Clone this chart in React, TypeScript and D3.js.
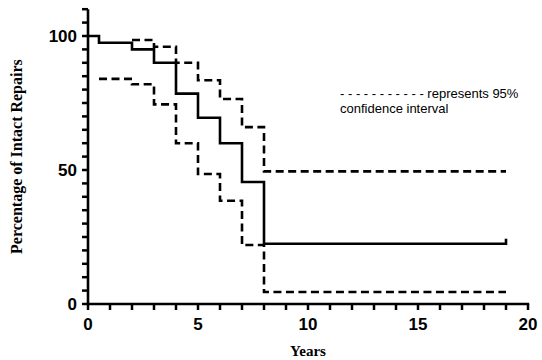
import React, { useEffect, useRef } from 'react';
import * as d3 from 'd3';

// Kaplan-Meier estimate and its 95% confidence band
const survTimes = [0, 0.5, 2, 3, 4, 5, 6, 7, 8, 19];
const survValues = [100, 97.5, 95, 90, 78.5, 69.5, 60, 45.5, 22.5, 22.5];
const upperTimes = [2, 3, 4, 5, 6, 7, 8, 19];
const upperValues = [98.5, 96, 90, 83.5, 76.5, 66, 49.5, 49.5];
const lowerTimes = [0.5, 2, 3, 4, 5, 6, 7, 8, 19];
const lowerValues = [84, 82, 74.5, 60, 48.5, 38.5, 22, 4.5, 4.5];
const censorTimes = [19];
const censorValues = [22.5];

const xTicks = d3.range(0, 21, 1);
const yTicks = d3.range(0, 111, 5);
const xTickLabels = [0, 5, 10, 15, 20];
const yTickLabels = [0, 50, 100];

const App = () => {
    const ref = useRef(null);

    useEffect(() => {
        const width = 542, height = 360;
        const svg = d3.select(ref.current);
        svg.selectAll("*").remove();
        svg.attr("width", width).attr("height", height);

        const x = d3.scaleLinear().domain([0, 20]).range([88, 528]);
        const y = d3.scaleLinear().domain([0, 110]).range([304, 9.2]);

        const sans = "'Liberation Sans', Arial, Helvetica, sans-serif";
        const serif = "'Liberation Serif', 'Times New Roman', serif";
        const tickLen = 6;

        // x axis
        svg.append("line")
            .attr("x1", x(0)).attr("x2", x(20) + 1.2)
            .attr("y1", y(0)).attr("y2", y(0))
            .attr("stroke", "#000").attr("stroke-width", 2.6);
        svg.selectAll(".xtick")
            .data(xTicks)
            .enter().append("line")
            .attr("class", "xtick")
            .attr("x1", d => x(d)).attr("x2", d => x(d))
            .attr("y1", y(0)).attr("y2", y(0) + tickLen)
            .attr("stroke", "#000").attr("stroke-width", 2.5);
        svg.selectAll(".xlabel")
            .data(xTickLabels)
            .enter().append("text")
            .attr("class", "xlabel")
            .attr("x", d => x(d))
            .attr("y", 330)
            .style("text-anchor", "middle")
            .style("font-family", sans)
            .style("font-weight", "bold")
            .style("font-size", "17px")
            .text(d => d);

        // y axis
        svg.append("line")
            .attr("x1", x(0)).attr("x2", x(0))
            .attr("y1", y(0) + 1.3).attr("y2", y(110))
            .attr("stroke", "#000").attr("stroke-width", 2.6);
        svg.selectAll(".ytick")
            .data(yTicks)
            .enter().append("line")
            .attr("class", "ytick")
            .attr("x1", x(0)).attr("x2", x(0) - tickLen)
            .attr("y1", d => y(d)).attr("y2", d => y(d))
            .attr("stroke", "#000").attr("stroke-width", 2.5);
        svg.selectAll(".ylabel")
            .data(yTickLabels)
            .enter().append("text")
            .attr("class", "ylabel")
            .attr("x", 77)
            .attr("y", d => y(d))
            .attr("dy", "0.36em")
            .style("text-anchor", "end")
            .style("font-family", sans)
            .style("font-weight", "bold")
            .style("font-size", "17px")
            .text(d => d);

        const step = d3.line<[number, number]>()
            .x(d => x(d[0]))
            .y(d => y(d[1]))
            .curve(d3.curveStepAfter);

        const series = [
            { t: lowerTimes, v: lowerValues, dash: "8,4.5" },
            { t: upperTimes, v: upperValues, dash: "8,4.5" },
            { t: survTimes, v: survValues, dash: null },
        ];

        series.forEach(s => {
            svg.append("path")
                .datum(s.t.map((t, i) => [t, s.v[i]] as [number, number]))
                .attr("d", step)
                .attr("fill", "none")
                .attr("stroke", "#000")
                .attr("stroke-width", 2.6)
                .attr("stroke-dasharray", s.dash);
        });

        // censor tick at end of follow-up
        svg.selectAll(".censor")
            .data(censorTimes)
            .enter().append("line")
            .attr("class", "censor")
            .attr("x1", d => x(d))
            .attr("x2", d => x(d))
            .attr("y1", (d, i) => y(censorValues[i]) + 1.3)
            .attr("y2", (d, i) => y(censorValues[i]) - 5)
            .attr("stroke", "#000")
            .attr("stroke-width", 2.6);

        // legend note
        svg.append("text")
            .attr("x", 340)
            .attr("y", 98)
            .style("font-family", sans)
            .style("font-size", "13px")
            .text("- - - - - - - - - - - represents 95%");
        svg.append("text")
            .attr("x", 340)
            .attr("y", 113)
            .style("font-family", sans)
            .style("font-size", "13px")
            .text("confidence interval");

        // axis titles
        svg.append("text")
            .attr("x", x(10))
            .attr("y", 356)
            .style("text-anchor", "middle")
            .style("font-family", serif)
            .style("font-weight", "bold")
            .style("font-size", "15px")
            .text("Years");

        svg.append("text")
            .attr("transform", `translate(22,${(y(0) + y(110)) / 2}) rotate(-90)`)
            .style("text-anchor", "middle")
            .style("font-family", serif)
            .style("font-weight", "bold")
            .style("font-size", "16px")
            .text("Percentage of Intact Repairs");
    }, []);

    return <svg ref={ref} style={{ position: 'absolute', left: 0, top: 0, background: '#fff' }} />;
};

export default App;
